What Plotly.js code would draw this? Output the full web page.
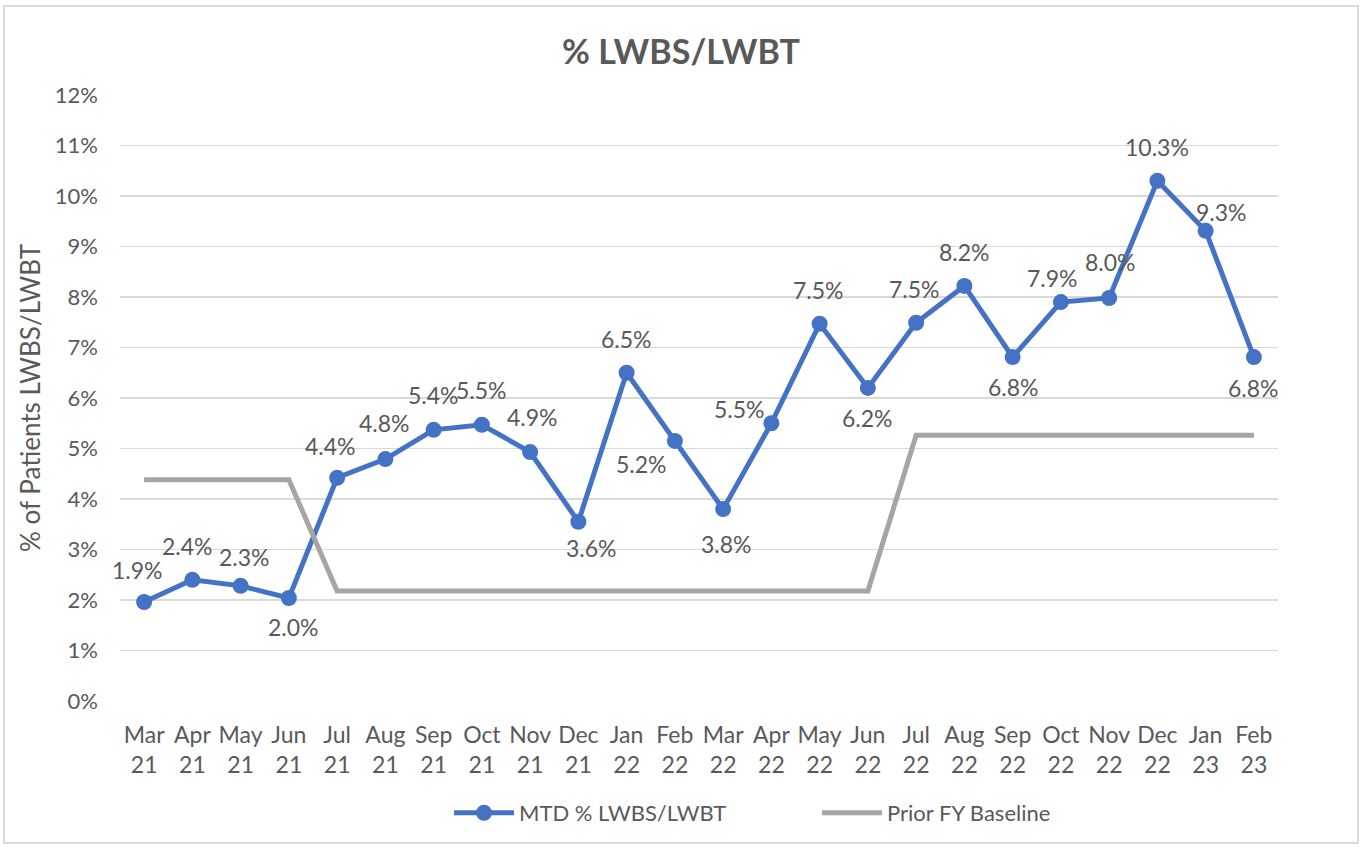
<!DOCTYPE html>
<html>
<head>
<meta charset="utf-8">
<script src="https://cdn.plot.ly/plotly-3.0.1.min.js"></script>
<style>
  html, body { margin: 0; padding: 0; background: #fff; }
  #wrap { position: relative; width: 1364px; height: 848px; }
  #chart { width: 1364px; height: 848px; }
  #frame { position: absolute; left: 3px; top: 5px; width: 1356px; height: 839px;
           border: 2px solid #d9d9d9; pointer-events: none; box-sizing: border-box; }
</style>
</head>
<body>
<div id="wrap">
  <div id="chart"></div>
  <div id="frame"></div>
</div>
<script>
// ---- data ----
const months = ["Mar 21","Apr 21","May 21","Jun 21","Jul 21","Aug 21","Sep 21","Oct 21","Nov 21","Dec 21",
                "Jan 22","Feb 22","Mar 22","Apr 22","May 22","Jun 22","Jul 22","Aug 22","Sep 22","Oct 22",
                "Nov 22","Dec 22","Jan 23","Feb 23"];
const tickLabels = ["Mar<br>21","Apr<br>21","May<br>21","Jun<br>21","Jul<br>21","Aug<br>21","Sep<br>21","Oct<br>21",
                    "Nov<br>21","Dec<br>21","Jan<br>22","Feb<br>22","Mar<br>22","Apr<br>22","May<br>22","Jun<br>22",
                    "Jul<br>22","Aug<br>22","Sep<br>22","Oct<br>22","Nov<br>22","Dec<br>22","Jan<br>23","Feb<br>23"];
const mtdValues = [1.96, 2.40, 2.28, 2.04, 4.42, 4.79, 5.37, 5.47, 4.93, 3.55,
                   6.50, 5.15, 3.80, 5.50, 7.47, 6.20, 7.49, 8.22, 6.81, 7.90,
                   7.98, 10.30, 9.31, 6.81];
const mtdLabels = ["1.9%","2.4%","2.3%","2.0%","4.4%","4.8%","5.4%","5.5%","4.9%","3.6%",
                   "6.5%","5.2%","3.8%","5.5%","7.5%","6.2%","7.5%","8.2%","6.8%","7.9%",
                   "8.0%","10.3%","9.3%","6.8%"];
const baselineValues = [4.38, 4.38, 4.38, 4.38, 2.18, 2.18, 2.18, 2.18, 2.18, 2.18,
                        2.18, 2.18, 2.18, 2.18, 2.18, 2.18, 5.26, 5.26, 5.26, 5.26,
                        5.26, 5.26, 5.26, 5.26];
const yTickVals = [0,1,2,3,4,5,6,7,8,9,10,11,12];
const yTickText = ["0%","1%","2%","3%","4%","5%","6%","7%","8%","9%","10%","11%","12%"];

// label placement offsets (pixels from the point)
const labelDx = [-7,-5,4,5,-7,-1,0,0,2,13,0,-33,3,-32,-1,0,-2,0,1,-8,1,0,16,0];
const labelDy = [-32,-34,-29,29,-32,-36,-35,-35,-35,26,-34,23,35,-14,-34,30,-34,-34,30,-24,-36,-34,-19,31];

const FONT = "Lato, 'Liberation Sans', sans-serif";
const TXT = "#595959";
const xIdx = months.map((m, i) => i);

const traces = [
  {
    x: xIdx, y: mtdValues, name: "MTD % LWBS/LWBT", type: "scatter", mode: "lines+markers",
    line: { color: "#4472C4", width: 5 },
    marker: { color: "#4472C4", size: 16 },
    hoverinfo: "skip"
  },
  {
    x: xIdx, y: baselineValues, name: "Prior FY Baseline", type: "scatter", mode: "lines",
    line: { color: "#A5A5A5", width: 5 },
    hoverinfo: "skip"
  }
];

const annotations = mtdValues.map((v, i) => ({
  x: i, y: v, xref: "x", yref: "y", text: mtdLabels[i], showarrow: false,
  xshift: labelDx[i], yshift: -labelDy[i], xanchor: "center", yanchor: "middle",
  font: { family: FONT, size: 23, color: TXT }
}));

const layout = {
  width: 1364, height: 848,
  paper_bgcolor: "#ffffff", plot_bgcolor: "#ffffff",
  margin: { l: 120, r: 86, t: 95, b: 147, autoexpand: false },
  title: { text: "<b>% LWBS/LWBT</b>", font: { family: FONT, size: 34, color: TXT },
           x: 681/1364, xref: "container", xanchor: "center", y: 1 - 52/848, yref: "container", yanchor: "middle" },
  xaxis: {
    range: [-0.5, 23.5], tickmode: "array", tickvals: xIdx, ticktext: tickLabels,
    showgrid: false, zeroline: false, showline: false, ticks: "outside", ticklen: 13, tickcolor: "rgba(0,0,0,0)",
    tickfont: { family: FONT, size: 23, color: TXT }, fixedrange: true, automargin: false
  },
  yaxis: {
    range: [0, 12], tickmode: "array", tickvals: yTickVals, ticktext: yTickText,
    showgrid: true, gridcolor: "#d9d9d9", gridwidth: 1.3, zeroline: false, showline: false,
    ticks: "", ticklabelstandoff: 21,
    tickfont: { family: FONT, size: 22, color: TXT },
    title: { text: "% of Patients LWBS/LWBT", font: { family: FONT, size: 26, color: TXT }, standoff: 6 },
    fixedrange: true, automargin: false
  },
  legend: {
    orientation: "h", x: 817/1364, xref: "container", xanchor: "center", y: 1 - 813/848, yref: "container", yanchor: "middle",
    font: { family: FONT, size: 22, color: TXT }, itemwidth: 60, entrywidth: 293, entrywidthmode: "pixels", traceorder: "normal"
  },
  annotations: annotations,
  showlegend: true
};

Plotly.newPlot("chart", traces, layout, { displayModeBar: false, staticPlot: true });
</script>
</body>
</html>
